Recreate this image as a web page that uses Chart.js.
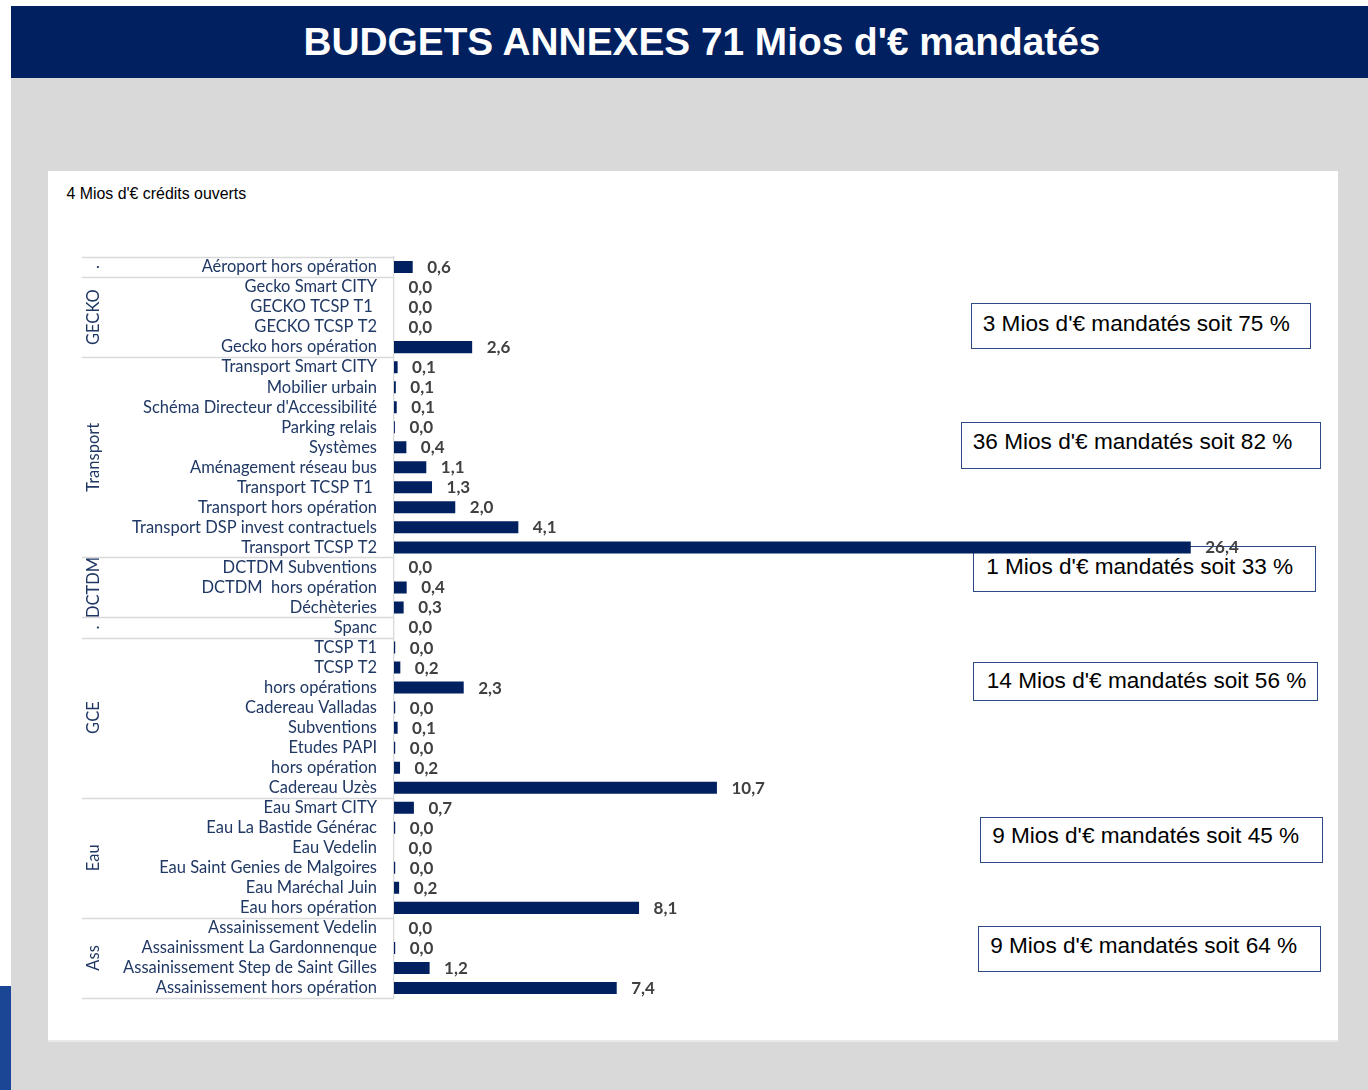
<!DOCTYPE html>
<html>
<head>
<meta charset="utf-8">
<script src="https://cdn.jsdelivr.net/npm/chart.js@4.4.1/dist/chart.umd.min.js"></script>
<style>
  html, body { margin:0; padding:0; }
  body { width:1368px; height:1090px; position:relative; overflow:hidden; background:#ffffff; font-family:"Liberation Sans", Arial, sans-serif; }
  #banner { position:absolute; left:11px; top:6px; width:1357px; height:72px; background:#002060; }
  #title { position:absolute; left:0; top:16.5px; width:1382px; text-align:center; color:#fff; font-weight:bold; font-size:38.8px; line-height:38px; white-space:nowrap; }
  #grey { position:absolute; left:11px; top:78px; width:1357px; height:1012px; background:#D9D9D9; }
  #strip { position:absolute; left:0; top:986px; width:11px; height:104px; background:#1B4595; }
  #panel { position:absolute; left:48px; top:171px; width:1290px; height:869px; background:#fff; box-shadow:0 2px 0 #E9E9E9; }
  #subtitle { position:absolute; left:66.5px; top:186px; font-size:15.9px; line-height:16px; color:#000; white-space:nowrap; }
  .box { position:absolute; box-sizing:border-box; border:1.5px solid #2E4A86; background:#fff; }
  .box span { position:absolute; font-size:22.6px; line-height:23px; color:#000; white-space:nowrap; }
  #chartWrap { position:absolute; left:48px; top:171px; width:1290px; height:869px; z-index:5; }
</style>
</head>
<body>
<div id="banner"><div id="title">BUDGETS ANNEXES 71 Mios d'€ mandatés</div></div>
<div id="grey"></div>
<div id="strip"></div>
<div id="panel"></div>
<div id="subtitle">4 Mios d'€ crédits ouverts</div>
<div id="boxes"></div>
<div id="chartWrap"><canvas id="c" width="1290" height="869"></canvas></div>
<script>
// ---- data ----
const categories = [
  "Aéroport hors opération",
  "Gecko Smart CITY", "GECKO TCSP T1 ", "GECKO TCSP T2", "Gecko hors opération",
  "Transport Smart CITY", "Mobilier urbain", "Schéma Directeur d'Accessibilité", "Parking relais",
  "Systèmes", "Aménagement réseau bus", "Transport TCSP T1 ", "Transport hors opération",
  "Transport DSP invest contractuels", "Transport TCSP T2",
  "DCTDM Subventions", "DCTDM  hors opération", "Déchèteries",
  "Spanc",
  "TCSP T1", "TCSP T2", "hors opérations", "Cadereau Valladas", "Subventions", "Etudes PAPI",
  "hors opération", "Cadereau Uzès",
  "Eau Smart CITY", "Eau La Bastide Générac", "Eau Vedelin", "Eau Saint Genies de Malgoires",
  "Eau Maréchal Juin", "Eau hors opération",
  "Assainissement Vedelin", "Assainissment La Gardonnenque", "Assainissement Step de Saint Gilles",
  "Assainissement hors opération"
];
const values = [
  0.62,
  0, 0, 0, 2.59,
  0.12, 0.06, 0.09, 0.03,
  0.41, 1.07, 1.26, 2.03,
  4.12, 26.4,
  0, 0.42, 0.32,
  0,
  0.04, 0.21, 2.31, 0.04, 0.12, 0.04,
  0.2, 10.7,
  0.66, 0.04, 0, 0.04,
  0.17, 8.12,
  0, 0.04, 1.18,
  7.38
];
const groupNames = [".", "GECKO", "Transport", "DCTDM", ".", "GCE", "Eau", "Ass"];
const groupSizes = [1, 4, 10, 3, 1, 8, 6, 4];
const boxTexts = [
  "3 Mios d'€ mandatés soit 75 %",
  "36 Mios d'€ mandatés soit 82 %",
  "1 Mios d'€ mandatés soit 33 %",
  "14 Mios d'€ mandatés soit 56 %",
  "9 Mios d'€ mandatés soit 45 %",
  "9 Mios d'€ mandatés soit 64 %"
];
const xMax = 30;

// ---- annotation boxes (layout) ----
const boxLayout = [
  {l:970.7, t:302.7, w:340, h:46.6, tx:12.6},
  {l:960.7, t:422,   w:360, h:46.7, tx:12.6},
  {l:972.7, t:546,   w:343, h:46.3, tx:14},
  {l:972.7, t:662,   w:345.6, h:39.3, tx:14.6},
  {l:980,   t:816.7, w:342.7, h:46.3, tx:12.7},
  {l:978,   t:926,   w:342.7, h:46.3, tx:12.7}
];
const baselines = [331.7, 449.3, 574.3, 688.3, 844, 953.3];
const boxesEl = document.getElementById('boxes');
boxTexts.forEach((t, i) => {
  const b = boxLayout[i];
  const d = document.createElement('div');
  d.className = 'box';
  d.style.left = b.l + 'px'; d.style.top = b.t + 'px';
  d.style.width = b.w + 'px'; d.style.height = b.h + 'px';
  const s = document.createElement('span');
  s.textContent = t;
  s.style.left = (b.tx - 1.5) + 'px';
  s.style.top = (baselines[i] - b.t - 1.5 - 19.3) + 'px';
  d.appendChild(s);
  boxesEl.appendChild(d);
});

// ---- plugins ----
const fmt = v => (Math.round(v * 10) / 10).toFixed(1).replace('.', ',');

const groupPlugin = {
  id: 'groups',
  afterDraw(chart) {
    const ctx = chart.ctx, y = chart.scales.y, area = chart.chartArea;
    const left = 34;
    const n = categories.length;
    const boundary = (i) => {
      if (i <= 0) return area.top;
      if (i >= n) return area.bottom;
      return (y.getPixelForTick(i - 1) + y.getPixelForTick(i)) / 2;
    };
    ctx.save();
    ctx.strokeStyle = '#D9D9D9';
    ctx.lineWidth = 1.3;
    let start = 0;
    const lines = [0];
    groupSizes.forEach(s => { start += s; lines.push(start); });
    lines.forEach(i => {
      const yy = Math.round(boundary(i)) + 0.5;
      ctx.beginPath(); ctx.moveTo(left, yy); ctx.lineTo(area.left, yy); ctx.stroke();
    });
    ctx.fillStyle = '#203864';
    ctx.font = '16.5px Lato';
    ctx.textAlign = 'center';
    ctx.textBaseline = 'middle';
    start = 0;
    groupNames.forEach((g, k) => {
      const top = boundary(start), bot = boundary(start + groupSizes[k]);
      const cy = (top + bot) / 2;
      ctx.save();
      ctx.translate(46, cy);
      ctx.rotate(-Math.PI / 2);
      ctx.fillText(g, 0, 0);
      ctx.restore();
      start += groupSizes[k];
    });
    ctx.restore();
  }
};

const valuePlugin = {
  id: 'values',
  afterDatasetsDraw(chart) {
    const ctx = chart.ctx;
    const meta = chart.getDatasetMeta(0);
    ctx.save();
    ctx.fillStyle = '#404040';
    ctx.font = 'bold 17px Lato';
    ctx.textAlign = 'left';
    ctx.textBaseline = 'middle';
    meta.data.forEach((el, i) => {
      ctx.fillText(fmt(values[i]), el.x + 14.5, el.y + 0.5);
    });
    ctx.restore();
  }
};

new Chart(document.getElementById('c'), {
  type: 'bar',
  data: {
    labels: categories,
    datasets: [{
      data: values,
      backgroundColor: '#002060',
      borderWidth: 0,
      barPercentage: 0.6,
      categoryPercentage: 1
    }]
  },
  options: {
    indexAxis: 'y',
    responsive: false,
    animation: false,
    layout: { padding: { top: 86, bottom: 42, left: 0, right: 38.6 } },
    plugins: { legend: { display: false }, tooltip: { enabled: false } },
    scales: {
      x: { display: false, min: 0, max: xMax },
      y: {
        grid: { display: false, drawTicks: false },
        border: { display: true, color: '#D9D9D9', width: 1.3 },
        ticks: { color: '#203864', font: { family: 'Lato', size: 16.5 }, padding: 17, autoSkip: false },
        afterFit(s) { s.width = 346; }
      }
    }
  },
  plugins: [groupPlugin, valuePlugin]
});
</script>
</body>
</html>
